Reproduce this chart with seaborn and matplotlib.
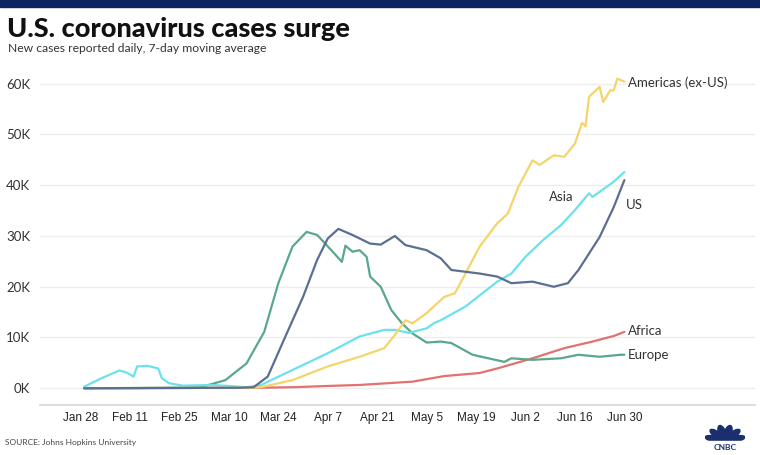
import matplotlib.pyplot as plt
import matplotlib.patches as mpatches
import numpy as np
import pandas as pd
import seaborn as sns

# 7-day moving average of new daily cases (thousands)
start = pd.Timestamp("2020-01-28")

asia_days = [1, 6, 11, 13, 15, 16, 19, 22, 23, 25, 29, 37, 42, 47, 51, 60, 70, 79, 86, 89, 93, 98,
             100, 102, 109, 118, 122, 126, 131, 136, 140, 144, 145, 147, 151, 154]
asia_k = [0.3, 2.0, 3.5, 3.1, 2.3, 4.3, 4.4, 3.9, 2.0, 1.0, 0.5, 0.65, 0.45, 0.2, 0.6, 3.6, 6.9, 10.2,
          11.5, 11.5, 10.9, 11.8, 12.8, 13.4, 16.1, 21.0, 22.6, 25.9, 29.2, 32.1, 35.1, 38.4, 37.7,
          38.7, 40.7, 42.6]

us_days = [1, 45, 49, 53, 58, 63, 67, 70, 73, 77, 82, 85, 89, 92, 98, 102, 105, 113, 118, 122, 128,
           134, 138, 141, 147, 151, 154]
us_k = [0.0, 0.1, 0.2, 2.3, 10.2, 18.0, 25.3, 29.5, 31.4, 30.2, 28.5, 28.3, 30.0, 28.2, 27.2, 25.6,
        23.3, 22.6, 22.0, 20.7, 21.0, 20.0, 20.7, 23.3, 29.8, 35.7, 41.0]

europe_days = [1, 30, 34, 41, 47, 52, 56, 60, 64, 67, 71, 74, 75, 77, 79, 81, 82, 85, 88, 91, 94, 98,
               102, 105, 111, 120, 122, 128, 136, 141, 147, 153, 154]
europe_k = [0.0, 0.1, 0.2, 1.6, 4.9, 11.1, 20.7, 27.9, 30.8, 30.2, 27.2, 24.9, 28.1, 26.9, 27.2,
            25.9, 22.0, 20.0, 15.4, 12.8, 10.8, 9.0, 9.2, 8.9, 6.6, 5.2, 5.9, 5.6, 5.9, 6.6, 6.2,
            6.6, 6.6]

americas_days = [1, 48, 51, 60, 70, 79, 86, 89, 92, 94, 98, 100, 103, 106, 109, 113, 118, 121, 124,
                 128, 130, 134, 137, 140, 142, 143, 144, 145, 147, 148, 150, 151, 152, 154]
americas_k = [0.0, 0.1, 0.2, 1.6, 4.3, 6.2, 7.9, 10.5, 13.4, 12.8, 14.8, 16.1, 18.0, 18.7, 22.6,
              27.9, 32.5, 34.4, 39.7, 44.9, 44.0, 45.9, 45.6, 48.2, 52.3, 51.6, 57.4, 58.1, 59.4,
              56.4, 58.7, 58.7, 61.0, 60.4]

africa_days = [1, 50, 60, 70, 79, 94, 103, 113, 118, 128, 137, 145, 151, 154]
africa_k = [0.0, 0.1, 0.2, 0.45, 0.65, 1.3, 2.4, 3.0, 3.9, 5.9, 7.9, 9.2, 10.3, 11.1]

regions = ["Africa", "Europe", "Asia", "Americas (ex-US)", "US"]
colors = {"Africa": "#e2716f", "Europe": "#5aa88a", "Asia": "#6ae2ee",
          "Americas (ex-US)": "#f5d46a", "US": "#5b6f90"}

tick_labels = ["Jan 28", "Feb 11", "Feb 25", "Mar 10", "Mar 24", "Apr 7", "Apr 21",
               "May 5", "May 19", "Jun 2", "Jun 16", "Jun 30"]
y_ticks = [0, 10, 20, 30, 40, 50, 60]

series = {"Africa": (africa_days, africa_k), "Europe": (europe_days, europe_k),
          "Asia": (asia_days, asia_k), "Americas (ex-US)": (americas_days, americas_k),
          "US": (us_days, us_k)}
frames = []
for name in regions:
    d, v = series[name]
    frames.append(pd.DataFrame({"region": name,
                                "date": start + pd.to_timedelta(d, unit="D"),
                                "cases": v}))
df = pd.concat(frames, ignore_index=True)

sns.set_theme(style="white")
plt.rcParams["font.family"] = ["Lato", "DejaVu Sans"]

fig = plt.figure(figsize=(7.6, 4.55), dpi=100)
ax = fig.add_axes([40 / 760, 1 - 405 / 455, 715 / 760, 335 / 455])

sns.lineplot(data=df, x="date", y="cases", hue="region", hue_order=regions,
             palette=colors, linewidth=1.6, legend=False, ax=ax)

ax.set_ylim(-3.3, 62.7)
ax.set_xlim(start - pd.Timedelta(days=11.5), start + pd.Timedelta(days=191))
ax.set_axisbelow(True)
ax.yaxis.grid(True, color="#ededed", linewidth=1)
ax.xaxis.grid(False)
for s in ["top", "left", "right"]:
    ax.spines[s].set_visible(False)
ax.spines["bottom"].set_color("#dedede")
ax.spines["bottom"].set_linewidth(1.5)

tick_dates = pd.date_range(start, periods=len(tick_labels), freq="14D")
ax.set_xticks(tick_dates)
ax.set_xticklabels(tick_labels, family="Liberation Sans", fontsize=8.5, color="#222222")
ax.set_yticks(y_ticks)
ax.set_yticklabels([f"{t}K" for t in y_ticks], fontsize=9.5, color="#333333")
ax.tick_params(axis="x", length=0, pad=5)
ax.tick_params(axis="y", length=0, pad=7)
ax.set_xlabel("")
ax.set_ylabel("")

# end labels
lab = dict(fontsize=9.5, color="#333333", va="center")
end_x = start + pd.Timedelta(days=155)
ax.text(end_x, americas_k[-1] - 0.3, "Americas (ex-US)", **lab)
ax.text(end_x, africa_k[-1] + 0.2, "Africa", **lab)
ax.text(end_x, europe_k[-1], "Europe", **lab)
ax.text(start + pd.Timedelta(days=154.5), 36.1, "US", **lab)
ax.text(start + pd.Timedelta(days=136), 37.7, "Asia", ha="center", **lab)

# header / footer
fig.patches.append(mpatches.Rectangle((0, 1 - 7 / 455), 1, 7 / 455, transform=fig.transFigure,
                                      color="#0c2461", zorder=0))
fig.text(7 / 760, 1 - 29 / 455, "U.S. coronavirus cases surge", fontsize=19.5, weight=900,
         color="#111111", va="center")
fig.text(8 / 760, 1 - 48 / 455, "New cases reported daily, 7-day moving average", fontsize=8.7,
         color="#333333", va="center")
fig.text(5 / 760, 1 - 443 / 455, "SOURCE: Johns Hopkins University", fontsize=6, color="#444444",
         va="center")

# simple CNBC mark
lg = fig.add_axes([705 / 760, 1 - 453 / 455, 40 / 760, 30 / 455])
lg.set_xlim(-1.0, 1.0)
lg.set_ylim(-0.75, 1.15)
lg.axis("off")
for ang in [15, 45, 75, 105, 135, 165]:
    a = np.deg2rad(ang)
    lg.add_patch(mpatches.Ellipse((0.55 * np.cos(a), 0.55 * np.sin(a)), 0.95, 0.36,
                                  angle=ang, color="#1b2f6e"))
lg.add_patch(mpatches.Rectangle((-1.0, -0.75), 2.0, 0.75, color="white"))
lg.text(0, -0.42, "CNBC", ha="center", va="center", fontsize=6, weight="bold", color="#1b2f6e")

fig.savefig("out.png", dpi=100)
